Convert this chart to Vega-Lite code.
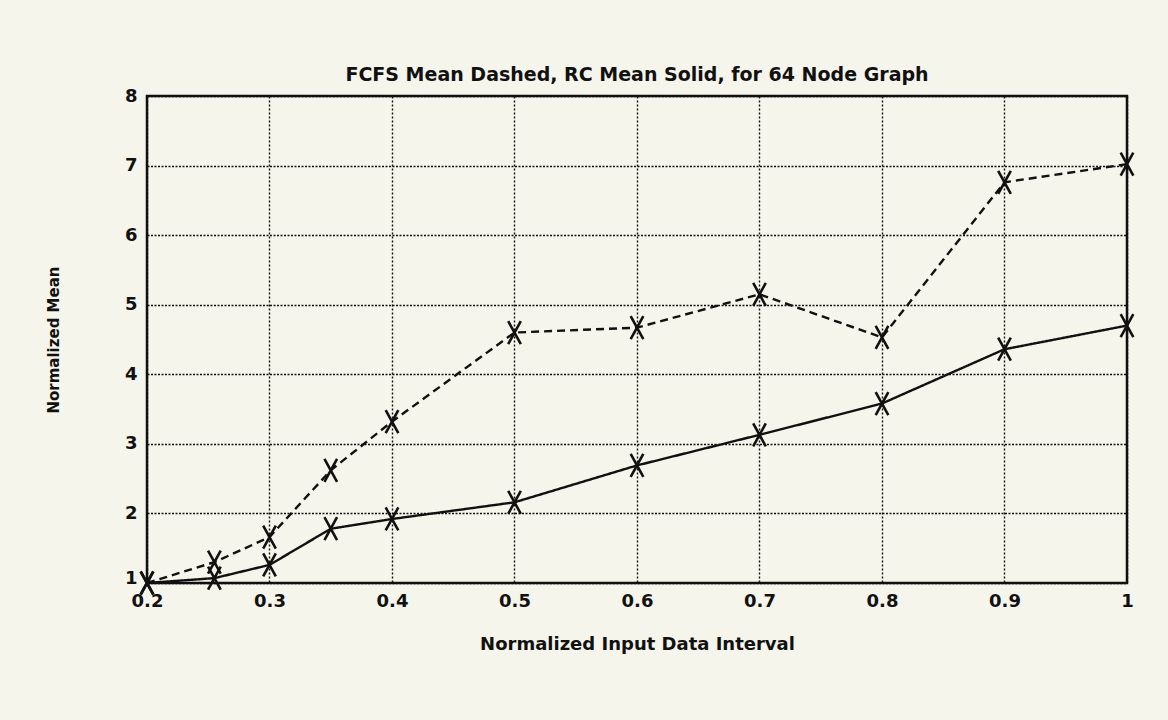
{
  "$schema": "https://vega.github.io/schema/vega-lite/v6.json",
  "width": 980,
  "height": 487,
  "autosize": {"type": "none"},
  "padding": {"left": 147, "top": 96, "right": 41, "bottom": 137},
  "background": "#f5f5eb",
  "title": {
    "text": "FCFS Mean Dashed, RC Mean Solid, for 64 Node Graph",
    "fontSize": 19,
    "font": "DejaVu Sans",
    "fontWeight": "bold",
    "color": "#111111",
    "anchor": "middle",
    "offset": 2
  },
  "config": {
    "view": {"stroke": "#111111", "strokeWidth": 2.5},
    "axis": {
      "labelFont": "DejaVu Sans",
      "titleFont": "DejaVu Sans",
      "labelColor": "#111111",
      "titleColor": "#111111",
      "domain": false,
      "ticks": false
    }
  },
  "data": {
    "values": [
      {"x": 0.2, "mean": 1.0, "series": "FCFS"},
      {"x": 0.255, "mean": 1.3, "series": "FCFS"},
      {"x": 0.3, "mean": 1.66, "series": "FCFS"},
      {"x": 0.35, "mean": 2.62, "series": "FCFS"},
      {"x": 0.4, "mean": 3.32, "series": "FCFS"},
      {"x": 0.5, "mean": 4.6, "series": "FCFS"},
      {"x": 0.6, "mean": 4.67, "series": "FCFS"},
      {"x": 0.7, "mean": 5.15, "series": "FCFS"},
      {"x": 0.8, "mean": 4.53, "series": "FCFS"},
      {"x": 0.9, "mean": 6.76, "series": "FCFS"},
      {"x": 1.0, "mean": 7.02, "series": "FCFS"},
      {"x": 0.2, "mean": 1.0, "series": "RC"},
      {"x": 0.255, "mean": 1.07, "series": "RC"},
      {"x": 0.3, "mean": 1.26, "series": "RC"},
      {"x": 0.35, "mean": 1.78, "series": "RC"},
      {"x": 0.4, "mean": 1.92, "series": "RC"},
      {"x": 0.5, "mean": 2.16, "series": "RC"},
      {"x": 0.6, "mean": 2.69, "series": "RC"},
      {"x": 0.7, "mean": 3.13, "series": "RC"},
      {"x": 0.8, "mean": 3.58, "series": "RC"},
      {"x": 0.9, "mean": 4.36, "series": "RC"},
      {"x": 1.0, "mean": 4.7, "series": "RC"}
    ]
  },
  "encoding": {
    "x": {
      "field": "x",
      "type": "quantitative",
      "scale": {"domain": [0.2, 1.0], "nice": false, "zero": false},
      "axis": {
        "values": [0.2, 0.3, 0.4, 0.5, 0.6, 0.7, 0.8, 0.9, 1.0],
        "format": "~g",
        "title": "Normalized Input Data Interval",
        "labelFontSize": 18,
        "labelFontWeight": "bold",
        "labelPadding": 9,
        "labelFlush": false,
        "titleFontSize": 18,
        "titleFontWeight": "bold",
        "titlePadding": 25,
        "grid": true,
        "gridColor": "#111111",
        "gridDash": [2, 2],
        "gridWidth": 1.4,
        "gridOpacity": 1
      }
    },
    "y": {
      "field": "mean",
      "type": "quantitative",
      "scale": {"domain": [1, 8], "nice": false, "zero": false},
      "axis": {
        "values": [1, 2, 3, 4, 5, 6, 7, 8],
        "title": "Normalized Mean",
        "labelFontSize": 18,
        "labelFontWeight": "bold",
        "labelPadding": 10,
        "labelFlush": false,
        "labelBaseline": {"expr": "datum.value == 1 ? 'alphabetic' : 'middle'"},
        "titleFontSize": 15,
        "titleFontWeight": "bold",
        "titlePadding": 63,
        "grid": true,
        "gridColor": "#111111",
        "gridDash": [2, 1.5],
        "gridWidth": 1.6,
        "gridOpacity": 1
      }
    }
  },
  "layer": [
    {
      "mark": {"type": "line", "color": "#111111", "strokeWidth": 2.4},
      "encoding": {
        "detail": {"field": "series"},
        "strokeDash": {
          "field": "series",
          "type": "nominal",
          "scale": {"domain": ["FCFS", "RC"], "range": [[8, 5], [1, 0]]},
          "legend": null
        }
      }
    },
    {
      "mark": {
        "type": "point",
        "shape": "M-0.55,-1L0.55,1M0.55,-1L-0.55,1",
        "size": 529,
        "filled": false,
        "color": "#111111",
        "strokeWidth": 2.6,
        "opacity": 1
      },
      "encoding": {"detail": {"field": "series"}}
    }
  ]
}
